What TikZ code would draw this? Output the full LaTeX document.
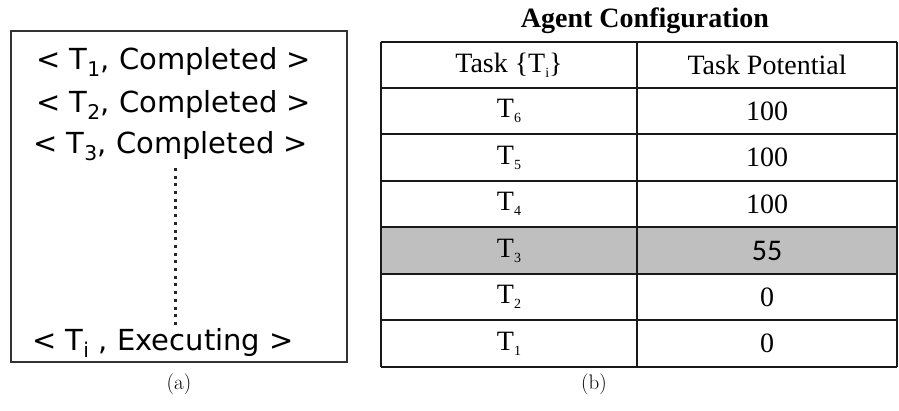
\documentclass[tikz,border=0pt]{standalone}
\usepackage{fontspec}
\newfontfamily\boxfont{DejaVu Sans}
\newfontfamily\tabfont{Liberation Serif}
\newfontfamily\numfont{Carlito}
% small lowered index for the table entries
\newcommand{\tidx}[1]{\raisebox{-0.4ex}{\fontsize{14}{14}\selectfont #1}}
\begin{document}
\begin{tikzpicture}[x=1pt,y=1pt,
  frameline/.style={draw=black!80, line width=2pt},
  gridline/.style={draw=black!90, line width=2pt},
  statetext/.style={font=\boxfont\fontsize{29}{32}\selectfont, inner sep=0pt, anchor=west},
  celltext/.style={font=\tabfont\fontsize{28}{30}\selectfont, inner sep=0pt},
  captext/.style={font=\fontsize{21}{24}\selectfont, inner sep=0pt}]
\useasboundingbox (0,0) rectangle (899,-411);

% (a) execution log of the agent
\draw[frameline] (11,-31) rectangle (347,-362);
\node[statetext] (s1) at (36,-62)  {< T\textsubscript{1}, Completed >};
\node[statetext] (s2) at (36,-105) {< T\textsubscript{2}, Completed >};
\node[statetext] (s3) at (33,-146) {< T\textsubscript{3}, Completed >};
\node[statetext, anchor=center] (si) at (163,-343) {< T\textsubscript{i} , Executing >};
\coordinate (dtop) at (175,-168);
\coordinate (dbot) at (175,-329);
\draw[line width=3pt, black!85, dash pattern=on 3pt off 4.7pt] (dtop) -- (dbot);
\node[captext] (capa) at (179,-384) {(a)};

% (b) agent configuration table
\node[font=\tabfont\bfseries\fontsize{28}{30}\selectfont, inner sep=0pt] (title) at (645,-21) {Agent Configuration};
\fill[black!25] (381,-227.5) rectangle (897,-274);
\foreach \y in {42,88,134.5,181,227.5,274,320.5,367}
  \draw[gridline] (381,-\y) -- (897,-\y);
\draw[gridline] (381,-42) -- (381,-367);
\draw[gridline] (637,-42) -- (637,-367);
\draw[gridline] (897,-42) -- (897,-367);

\node[celltext] (h1) at (509,-65) {Task \{T\tidx{i}\}};
\node[celltext] (h2) at (767,-65) {Task Potential};
\node[celltext] (t6) at (509,-111.25) {T\tidx{6}};
\node[celltext] (p6) at (767,-111.25) {100};
\node[celltext] (t5) at (509,-157.75) {T\tidx{5}};
\node[celltext] (p5) at (767,-157.75) {100};
\node[celltext] (t4) at (509,-204.25) {T\tidx{4}};
\node[celltext] (p4) at (767,-204.25) {100};
\node[celltext] (t3) at (509,-250.75) {T\tidx{3}};
\node[font=\numfont\fontsize{30}{32}\selectfont, inner sep=0pt] (p3) at (767,-250.75) {55};
\node[celltext] (t2) at (509,-297.25) {T\tidx{2}};
\node[celltext] (p2) at (767,-297.25) {0};
\node[celltext] (t1) at (509,-343.75) {T\tidx{1}};
\node[celltext] (p1) at (767,-343.75) {0};
\node[captext] (capb) at (594,-384) {(b)};
\end{tikzpicture}
\end{document}
